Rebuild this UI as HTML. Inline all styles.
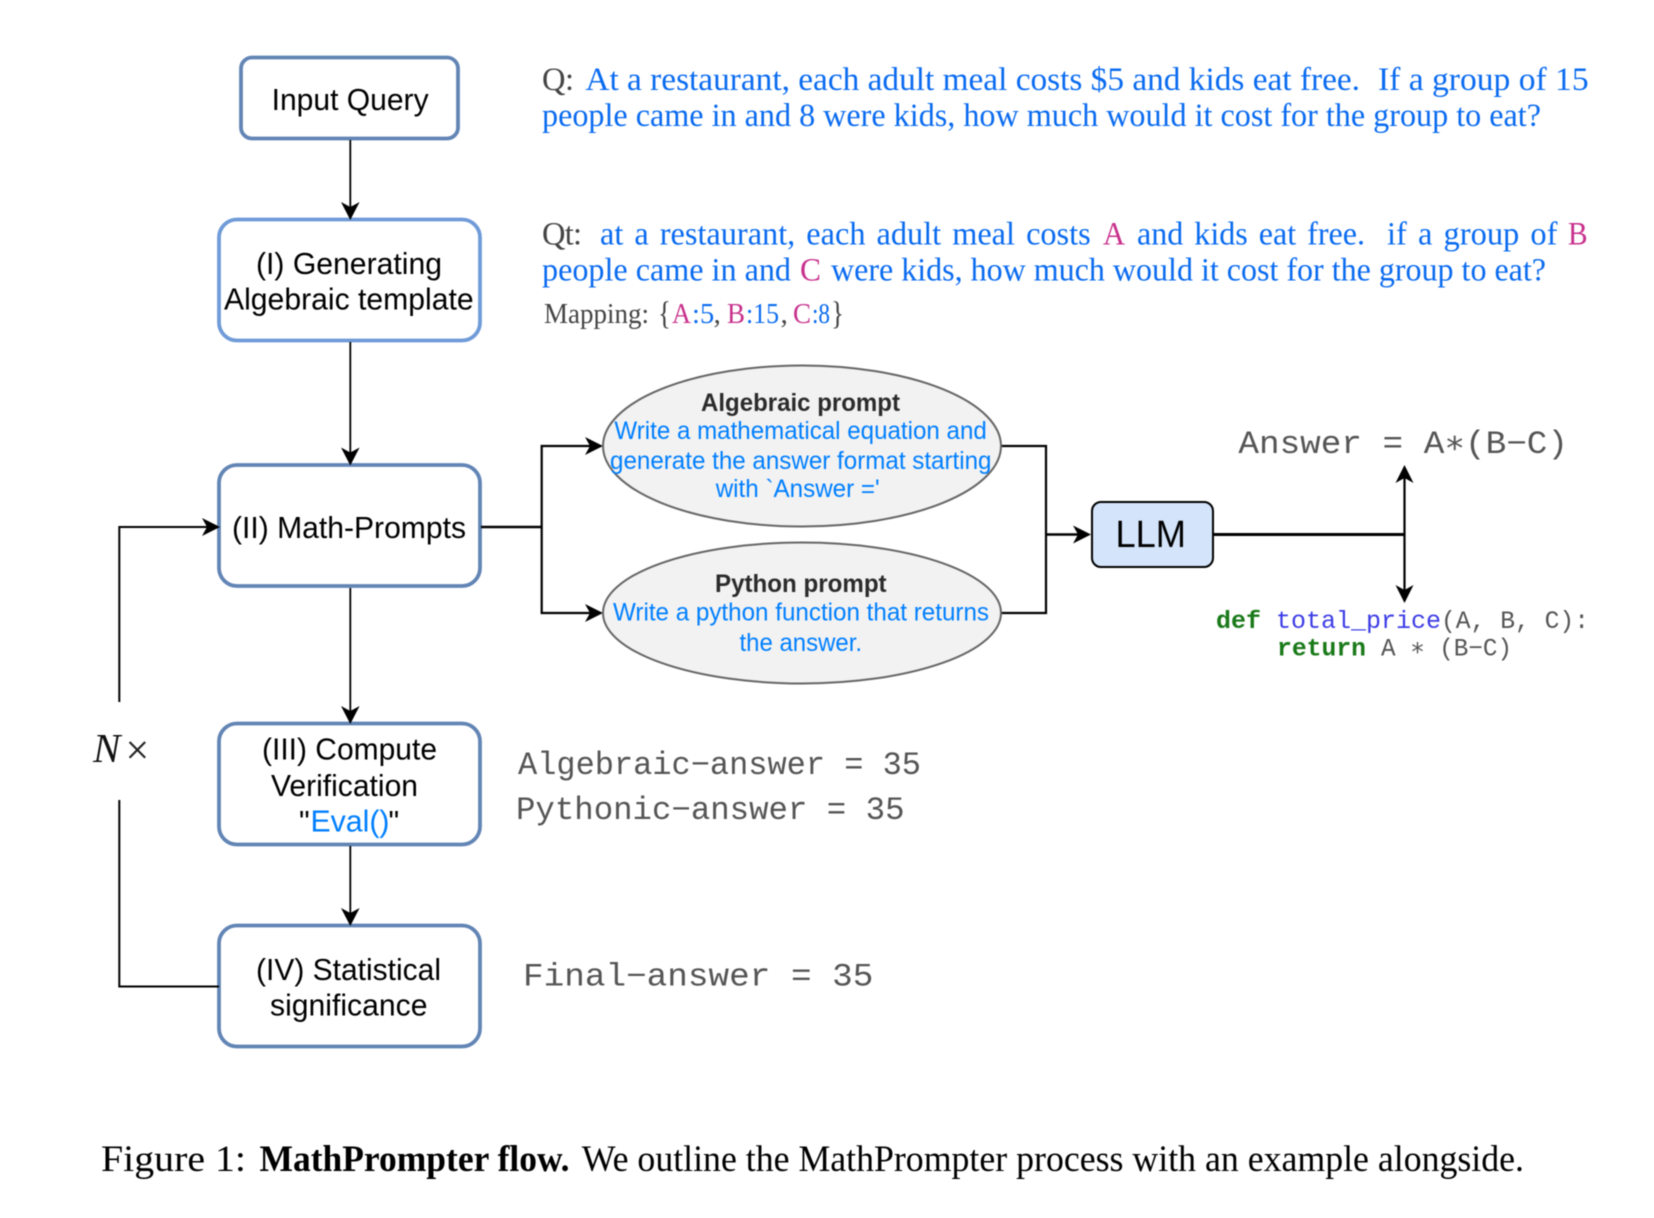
<!DOCTYPE html>
<html><head><meta charset="utf-8"><style>
html,body{margin:0;padding:0;background:#fff;width:1654px;height:1218px;overflow:hidden}
svg{display:block;filter:blur(0.4px)}
.s{font-family:"Liberation Sans",sans-serif}
.t{font-family:"Liberation Serif",serif}
.m{font-family:"Liberation Mono",monospace}
text{white-space:pre}
</style></head><body>
<svg width="1654" height="1218" viewBox="0 0 1654 1218" xmlns="http://www.w3.org/2000/svg">
<rect width="1654" height="1218" fill="#fff"/>

<!-- boxes -->
<g fill="#fff" stroke-width="3.8">
<rect x="241" y="57.5" width="217" height="81" rx="11" stroke="#6285b5"/>
<rect x="219" y="219.5" width="261" height="121" rx="18" stroke="#6f9bd8"/>
<rect x="219" y="465" width="261" height="121" rx="18" stroke="#6285b5"/>
<rect x="219" y="723.5" width="261" height="121" rx="18" stroke="#6285b5"/>
<rect x="219" y="925.5" width="261" height="121" rx="18" stroke="#6285b5"/>
</g>

<!-- connectors -->
<g fill="none" stroke="#000" stroke-width="1.8">
<path d="M350.3 140V208"/>
<path d="M350.3 342V453"/>
<path d="M350.3 588V712"/>
<path d="M350.3 846V914"/>
<path d="M119.3 702V527H208" stroke-width="2"/>
<path d="M119.3 800V986.5H219" stroke-width="2"/>
<path d="M481 527H541.7" stroke-width="2.6"/>
<path d="M592 446H541.7V613H592" stroke-width="2.2"/>
<path d="M1001 446H1046V613H1001" stroke-width="2.2"/>
<path d="M1046 534.5H1080" stroke-width="2.6"/>
<path d="M1213.6 534.5H1404.5" stroke-width="3"/>
<path d="M1404.5 478V590" stroke-width="2.2"/>
</g>
<g fill="#000">
<path d="M350.3 220L341 202L350.3 207L359.6 202Z"/>
<path d="M350.3 465.500L341 447.500L350.3 452.500L359.600 447.500Z"/>
<path d="M350.3 724L341 706L350.3 711L359.600 706Z"/>
<path d="M350.3 926L341 908L350.3 913L359.600 908Z"/>
<path d="M220 527L202 518L207 527L202 536Z"/>
<path d="M603 446L585 437L590 446L585 455Z"/>
<path d="M603 613L585 604L590 613L585 622Z"/>
<path d="M1091 534.500L1073 525.500L1078 534.500L1073 543.500Z"/>
<path d="M1404.500 465L1395.500 483L1404.500 478L1413.500 483Z"/>
<path d="M1404.500 603L1395.500 585L1404.500 590L1413.500 585Z"/>
</g>

<!-- ellipses -->
<ellipse cx="802" cy="446" rx="199" ry="80.500" fill="#f2f2f2" stroke="#666" stroke-width="2"/>
<ellipse cx="802" cy="613" rx="199" ry="70.500" fill="#f2f2f2" stroke="#666" stroke-width="2"/>

<!-- LLM -->
<rect x="1092" y="502" width="121" height="65" rx="9" fill="#d4e4fa" stroke="#000" stroke-width="2"/>

<!-- box text -->
<g class="s" font-size="31" fill="#000">
<text x="271.600" y="110" textLength="157" lengthAdjust="spacingAndGlyphs">Input Query</text>
<text x="256" y="274" textLength="186" lengthAdjust="spacingAndGlyphs">(I) Generating</text>
<text x="224" y="309.500" textLength="249.600" lengthAdjust="spacingAndGlyphs">Algebraic template</text>
<text x="232" y="538" textLength="234" lengthAdjust="spacingAndGlyphs">(II) Math-Prompts</text>
<text x="262" y="759.700" textLength="175" lengthAdjust="spacingAndGlyphs">(III) Compute</text>
<text x="271" y="795.800" textLength="147" lengthAdjust="spacingAndGlyphs">Verification</text>
<text x="299" y="831.500" font-size="30">"</text>
<text x="310.500" y="831.500" fill="#007fff" textLength="79" lengthAdjust="spacingAndGlyphs">Eval()</text>
<text x="388.500" y="831.500" font-size="30">"</text>
<text x="256" y="980" textLength="185" lengthAdjust="spacingAndGlyphs">(IV) Statistical</text>
<text x="270" y="1015.500" textLength="157.500" lengthAdjust="spacingAndGlyphs">significance</text>
</g>
<text class="s" font-size="38" x="1115.500" y="547" textLength="70.500" lengthAdjust="spacingAndGlyphs">LLM</text>

<!-- ellipse text -->
<g class="s" font-size="25" fill="#007fff">
<text x="701" y="411" textLength="199" lengthAdjust="spacingAndGlyphs" font-weight="bold" fill="#2b2b2b">Algebraic prompt</text>
<text x="614.400" y="439" textLength="372.400" lengthAdjust="spacingAndGlyphs">Write a mathematical equation and</text>
<text x="610" y="469" textLength="381.500" lengthAdjust="spacingAndGlyphs">generate the answer format starting</text>
<text x="715.700" y="497" textLength="164" lengthAdjust="spacingAndGlyphs">with `Answer ='</text>
<text x="715" y="592" textLength="171.600" lengthAdjust="spacingAndGlyphs" font-weight="bold" fill="#2b2b2b">Python prompt</text>
<text x="613" y="620.600" textLength="376" lengthAdjust="spacingAndGlyphs">Write a python function that returns</text>
<text x="739.500" y="651" textLength="122.500" lengthAdjust="spacingAndGlyphs">the answer.</text>
</g>

<!-- Q text -->
<g class="t" font-size="32.500" fill="#0a6bf0">
<text x="542" y="90" fill="#444" textLength="32">Q:</text>
<text x="585.400" y="90" textLength="774.600" lengthAdjust="spacingAndGlyphs">At a restaurant, each adult meal costs $5 and kids eat free.</text>
<text x="1378" y="90" textLength="210.600" lengthAdjust="spacingAndGlyphs">If a group of 15</text>
<text x="542" y="126" textLength="999" lengthAdjust="spacingAndGlyphs">people came in and 8 were kids, how much would it cost for the group to eat?</text>

<text x="542" y="244.700" fill="#444" textLength="40">Qt:</text>
<text x="600" y="244.700" textLength="490.700" lengthAdjust="spacingAndGlyphs" word-spacing="3">at a restaurant, each adult meal costs</text>
<text x="1103" y="244.700" fill="#c8308c" textLength="22" lengthAdjust="spacingAndGlyphs">A</text>
<text x="1137" y="244.700" textLength="228" lengthAdjust="spacingAndGlyphs" word-spacing="3">and kids eat free.</text>
<text x="1387" y="244.700" textLength="170.500" lengthAdjust="spacingAndGlyphs" word-spacing="3">if a group of</text>
<text x="1568" y="244.700" fill="#c8308c" textLength="19.600" lengthAdjust="spacingAndGlyphs">B</text>
<text x="542" y="280.400" textLength="249" lengthAdjust="spacingAndGlyphs">people came in and</text>
<text x="800" y="280.400" fill="#c8308c" textLength="21" lengthAdjust="spacingAndGlyphs">C</text>
<text x="831" y="280.400" textLength="715" lengthAdjust="spacingAndGlyphs">were kids, how much would it cost for the group to eat?</text>
</g>
<g class="t" font-size="28.500" fill="#0a6bf0">
<text x="544" y="323" fill="#444" textLength="105" lengthAdjust="spacingAndGlyphs">Mapping:</text>
<text x="658" y="324" fill="#444" font-size="33" textLength="13" lengthAdjust="spacingAndGlyphs">{</text>
<text x="672" y="323" fill="#c8308c" textLength="19" lengthAdjust="spacingAndGlyphs">A</text><text x="692" y="323">:</text><text x="700" y="323">5</text><text x="713.600" y="323" fill="#444">,</text>
<text x="727" y="323" fill="#c8308c" textLength="18" lengthAdjust="spacingAndGlyphs">B</text><text x="746" y="323" textLength="33" lengthAdjust="spacingAndGlyphs">:15</text><text x="780.600" y="323" fill="#444">,</text>
<text x="793" y="323" fill="#c8308c" textLength="18" lengthAdjust="spacingAndGlyphs">C</text><text x="812" y="323" textLength="18" lengthAdjust="spacingAndGlyphs">:8</text><text x="831" y="324" fill="#444" font-size="33" textLength="13" lengthAdjust="spacingAndGlyphs">}</text>
</g>

<!-- mono -->
<g class="m" font-size="32" fill="#555">
<text x="1238.400" y="453" textLength="329.600" lengthAdjust="spacingAndGlyphs">Answer = A∗(B−C)</text>
<text x="518" y="774" textLength="403" lengthAdjust="spacingAndGlyphs">Algebraic−answer = 35</text>
<text x="516" y="819" textLength="388.500" lengthAdjust="spacingAndGlyphs">Pythonic−answer = 35</text>
<text x="523" y="985.700" textLength="350.400" lengthAdjust="spacingAndGlyphs">Final−answer = 35</text>
</g>
<g class="m" font-size="25" fill="#555">
<text x="1216" y="628" fill="#1a7a1a" font-weight="bold" textLength="45" lengthAdjust="spacingAndGlyphs">def</text>
<text x="1276" y="628" fill="#3c3ce6" textLength="165" lengthAdjust="spacingAndGlyphs">total_price</text>
<text x="1441" y="628" textLength="148" lengthAdjust="spacingAndGlyphs">(A, B, C):</text>
<text x="1277" y="655.500" fill="#1a7a1a" font-weight="bold" textLength="89" lengthAdjust="spacingAndGlyphs">return</text>
<text x="1381" y="655.500" textLength="131" lengthAdjust="spacingAndGlyphs">A ∗ (B−C)</text>
</g>

<!-- N x -->
<text class="t" x="93" y="762" font-size="41" font-style="italic" fill="#111">N</text>
<text class="t" x="125.500" y="764" font-size="42" fill="#222">×</text>

<!-- caption -->
<g class="t" font-size="37" fill="#000">
<text x="101" y="1171" textLength="145" lengthAdjust="spacingAndGlyphs">Figure 1:</text>
<text x="259.500" y="1171" textLength="310" lengthAdjust="spacingAndGlyphs" font-weight="bold">MathPrompter flow.</text>
<text x="581.700" y="1171" textLength="942.300" lengthAdjust="spacingAndGlyphs">We outline the MathPrompter process with an example alongside.</text>
</g>
</svg>
</body></html>
